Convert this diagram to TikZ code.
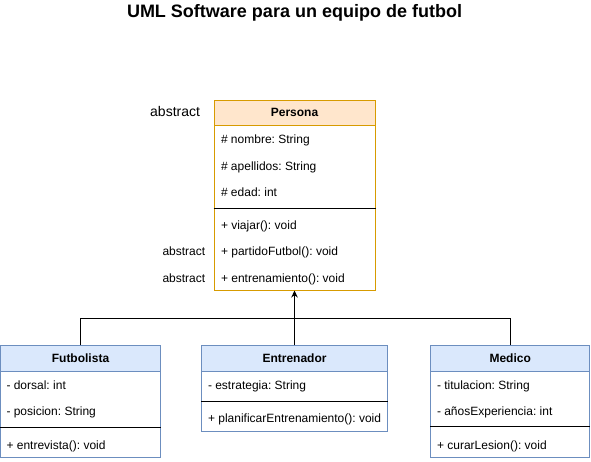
\documentclass[tikz,border=0pt]{standalone}
\usepackage{fontspec}
\setmainfont{Liberation Sans}
\usetikzlibrary{arrows.meta}
\definecolor{orfill}{HTML}{FFE6CC}
\definecolor{orline}{HTML}{D79B00}
\definecolor{blfill}{HTML}{DAE8FC}
\definecolor{blline}{HTML}{6C8EBF}
\frenchspacing
\begin{document}
\frenchspacing
\begin{tikzpicture}[x=1pt,y=-1pt,line width=1pt,
  every node/.style={font=\fontsize{12}{14}\selectfont\frenchspacing},
  classbox/.style={draw, fill=white, rectangle, inner sep=0pt, minimum width=#1},
  hdr/.style={draw, rectangle, inner sep=0pt, minimum height=25.5pt, anchor=north, font=\bfseries\fontsize{12}{14}\selectfont},
  attr/.style={anchor=west, inner sep=0pt, text height=8.6pt, text depth=0pt},
  abs/.style={anchor=east, inner sep=0pt, text height=8.6pt, text depth=0pt},
  conn/.style={draw=black, line width=1pt}]
\useasboundingbox (0,0) rectangle (591,461);

% title
\node[inner sep=0pt, text height=12.9pt, text depth=0pt, font=\bfseries\fontsize{18}{21}\selectfont] (title) at (294.5,11.5) {UML Software para un equipo de futbol};

% Persona
\node[classbox=161pt, draw=orline, minimum height=190pt] (per) at (294.5,195) {};
\node[hdr, fill=orfill, draw=orline, minimum width=161pt] (perh) at (per.north) {Persona};
\node[attr] (p1) at (220.5,139.5) {\# nombre: String};
\node[attr] (p2) at (220.5,166) {\# apellidos: String};
\node[attr] (p3) at (220.5,192) {\# edad: int};
\draw[black] (per.west |- 0,208.3) -- (per.east |- 0,208.3);
\node[attr] (p4) at (220.5,225.5) {+ viajar(): void};
\node[attr] (p5) at (220.5,251.5) {+ partidoFutbol(): void};
\node[attr] (p6) at (220.5,278) {+ entrenamiento(): void};
\node[abs, font=\fontsize{14}{16}\selectfont, text height=10pt] (a0) at (200.5,111) {abstract};
\node[abs] (a1) at (205.7,251.5) {abstract};
\node[abs] (a2) at (205.7,278) {abstract};

% Futbolista
\node[classbox=160pt, draw=blline, minimum height=111.6pt] (fut) at (80.5,401.5) {};
\node[hdr, fill=blfill, draw=blline, minimum width=160pt] (futh) at (fut.north) {Futbolista};
\node[attr] (f1) at (6,385.5) {- dorsal: int};
\node[attr] (f2) at (6,411) {- posicion: String};
\draw[black] (fut.west |- 0,427) -- (fut.east |- 0,427);
\node[attr] (f3) at (6,445) {+ entrevista(): void};

% Entrenador
\node[classbox=185.6pt, draw=blline, minimum height=85.6pt] (ent) at (294.5,388.5) {};
\node[hdr, fill=blfill, draw=blline, minimum width=185.6pt] (enth) at (ent.north) {Entrenador};
\node[attr] (e1) at (207.5,385) {- estrategia: String};
\draw[black] (ent.west |- 0,401.3) -- (ent.east |- 0,401.3);
\node[attr] (e2) at (207.5,418.5) {+ planificarEntrenamiento(): void};

% Medico
\node[classbox=159pt, draw=blline, minimum height=111.6pt] (med) at (510.2,401.5) {};
\node[hdr, fill=blfill, draw=blline, minimum width=159pt] (medh) at (med.north) {Medico};
\node[attr] (m1) at (436.5,385) {- titulacion: String};
\node[attr] (m2) at (436.5,411) {- añosExperiencia: int};
\draw[black] (med.west |- 0,426.7) -- (med.east |- 0,426.7);
\node[attr] (m3) at (436.5,445) {+ curarLesion(): void};

% connectors
\coordinate (j) at (294.5,318);
\draw[conn, -{Stealth[length=7pt,width=6.5pt]}] (enth.north) -- (per.south);
\draw[conn] (futh.north) |- (j);
\draw[conn] (medh.north) |- (j);
\end{tikzpicture}
\end{document}
